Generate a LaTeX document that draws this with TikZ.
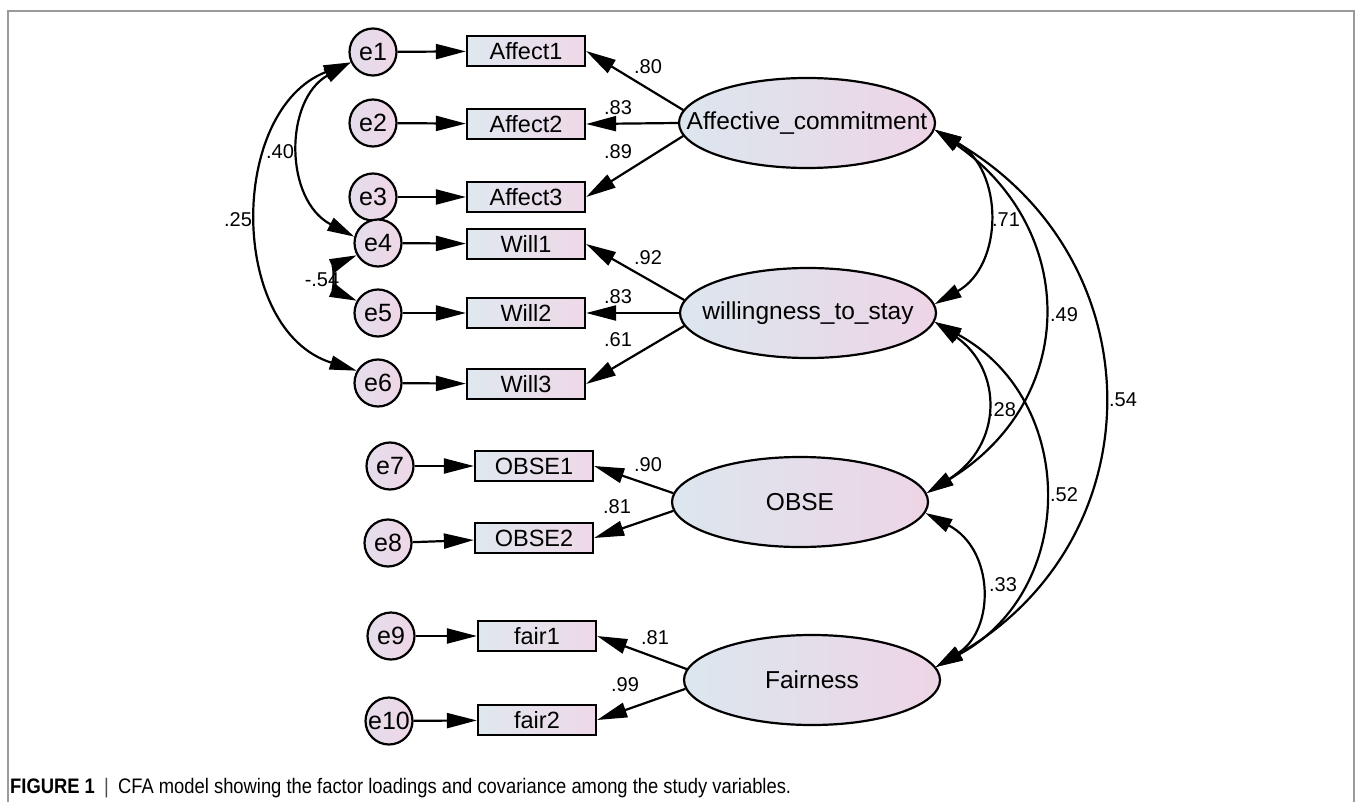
\documentclass[tikz,border=0pt]{standalone}
\usepackage{fontspec}
\setmainfont{Liberation Sans}
\usetikzlibrary{arrows.meta,shapes.geometric}
\definecolor{latL}{HTML}{DCE6EE}
\definecolor{latR}{HTML}{EDD5E6}
\definecolor{boxL}{HTML}{DFE8EF}
\definecolor{boxR}{HTML}{EFD8E8}
\definecolor{errL}{HTML}{E4DDEB}
\definecolor{errR}{HTML}{EFD7E7}
\definecolor{framecol}{HTML}{9A9A9A}
\begin{document}
\begin{tikzpicture}[x=1pt,y=-1pt,
  lw/.style={line width=2.2pt},
  obsbox/.style={draw, lw, rectangle, minimum width=118pt, minimum height=30pt, inner sep=0pt, left color=boxL, right color=boxR, font=\fontsize{23.5}{25}\selectfont},
  err/.style={draw, lw, circle, minimum size=47pt, inner sep=0pt, left color=errL, right color=errR, font=\fontsize{25}{27}\selectfont},
  lat/.style={draw, lw, ellipse, minimum width=256pt, minimum height=90pt, inner sep=0pt, left color=latL, right color=latR},
  lattext/.style={font=\fontsize{24.5}{26}\selectfont, inner sep=0pt},
  coef/.style={font=\fontsize{20}{22}\selectfont, inner sep=0pt},
  tip/.style={-{Triangle[length=30pt,width=15pt]}, lw},
  cov/.style={{Triangle[length=27pt,width=14pt]}-{Triangle[length=27pt,width=14pt]}, lw},
]
\useasboundingbox (0,0) rectangle (1356,802);
\draw[framecol, line width=2pt] (8,802) -- (8,11) -- (1354,11) -- (1354,802);

% latent variables
\node[lat] (aff) at (807,123) {};
\node[lattext] (affT) at (aff.center) {Affective\_commitment};
\node[lat] (wil) at (808,313) {};
\node[lattext] (wilT) at (wil.center) {willingness\_to\_stay};
\node[lat] (obse) at (800,502) {};
\node[lattext] (obseT) at (obse.center) {OBSE};
\node[lat] (fai) at (812,680) {};
\node[lattext] (faiT) at (fai.center) {Fairness};

% observed variables
\node[obsbox] (a1) at (526,51) {Affect1};
\node[obsbox] (a2) at (526,124) {Affect2};
\node[obsbox] (a3) at (526,197) {Affect3};
\node[obsbox] (w1) at (526,244) {Will1};
\node[obsbox] (w2) at (526,313) {Will2};
\node[obsbox] (w3) at (526,384) {Will3};
\node[obsbox] (o1) at (534,466) {OBSE1};
\node[obsbox] (o2) at (534,538) {OBSE2};
\node[obsbox] (f1) at (537,636) {fair1};
\node[obsbox] (f2) at (537,720) {fair2};

% errors
\node[err] (e1) at (373,52) {e1};
\node[err] (e2) at (373,123) {e2};
\node[err] (e3) at (373,197) {e3};
\node[err] (e4) at (378,243) {e4};
\node[err] (e5) at (378,313) {e5};
\node[err] (e6) at (378,383) {e6};
\node[err] (e7) at (390,466) {e7};
\node[err] (e8) at (388,543) {e8};
\node[err] (e9) at (391,636) {e9};
\node[err] (e10) at (389,721) {e10};

% error arrows
\draw[tip] (e1) -- (a1);
\draw[tip] (e2) -- (a2);
\draw[tip] (e3) -- (a3);
\draw[tip] (e4) -- (w1);
\draw[tip] (e5) -- (w2);
\draw[tip] (e6) -- (w3);
\draw[tip] (e7) -- (o1);
\draw[tip] (e8) -- (o2);
\draw[tip] (e9) -- (f1);
\draw[tip] (e10) -- (f2);

% loadings
\draw[tip] (aff.174) -- (a1.east);
\draw[tip] (aff.180) -- (a2.east);
\draw[tip] (aff.186) -- (a3.east);
\draw[tip] (wil.174) -- (w1.east);
\draw[tip] (wil.180) -- (w2.east);
\draw[tip] (wil.186) -- (w3.east);
\draw[tip] (obse.176) -- (o1.east);
\draw[tip] (obse.184) -- (o2.east);
\draw[tip] (fai.175) -- (f1.east);
\draw[tip] (fai.184) -- (f2.east);

% error covariances
\draw[cov] (e1.205) .. controls (284,100) and (284,200) .. (e4.165);
\draw[cov] (e1.205) .. controls (228,110) and (228,330) .. (e6.150);
\draw[cov] (e4.210) .. controls (334,265) and (334,291) .. (e5.150);

% factor covariances
\draw[cov] (aff.-3) .. controls (1004,170) and (1004,265) .. (wil.4);
\draw[cov] (aff.-3) .. controls (1079,230) and (1079,400) .. (obse.4);
\draw[cov] (aff.-3) .. controls (1157,260) and (1157,540) .. (fai.6);
\draw[cov] (wil.-4) .. controls (1003,370) and (1003,445) .. (obse.4);
\draw[cov] (wil.-4) .. controls (1078,400) and (1078,590) .. (fai.6);
\draw[cov] (obse.-5) .. controls (995,550) and (995,630) .. (fai.6);

% coefficients
\node[coef] (l1) at (648,67) {.80};
\node[coef] (l2) at (618,108) {.83};
\node[coef] (l3) at (618,152) {.89};
\node[coef] (l4) at (648,258) {.92};
\node[coef] (l5) at (618,297) {.83};
\node[coef] (l6) at (618,340) {.61};
\node[coef] (l7) at (648,465) {.90};
\node[coef] (l8) at (617,507) {.81};
\node[coef] (l9) at (655,638) {.81};
\node[coef] (l10) at (625,685) {.99};
\node[coef] (c1) at (1006,220) {.71};
\node[coef] (c2) at (1064,315) {.49};
\node[coef] (c3) at (1123,400) {.54};
\node[coef] (c4) at (1002,410) {.28};
\node[coef] (c5) at (1064,495) {.52};
\node[coef] (c6) at (1003,585) {.33};
\node[coef] (c7) at (280,152) {.40};
\node[coef] (c8) at (238,220) {.25};
\node[coef] (c9) at (322,280) {-.54};

% caption
\node[anchor=base west, inner sep=0pt, font=\fontsize{21}{23}\selectfont] (cap) at (10,793)
  {\scalebox{0.875}[1]{\textbf{FIGURE 1}\enspace{\color{black!70}|}\enspace CFA model showing the factor loadings and covariance among the study variables.}};
\end{tikzpicture}
\end{document}
